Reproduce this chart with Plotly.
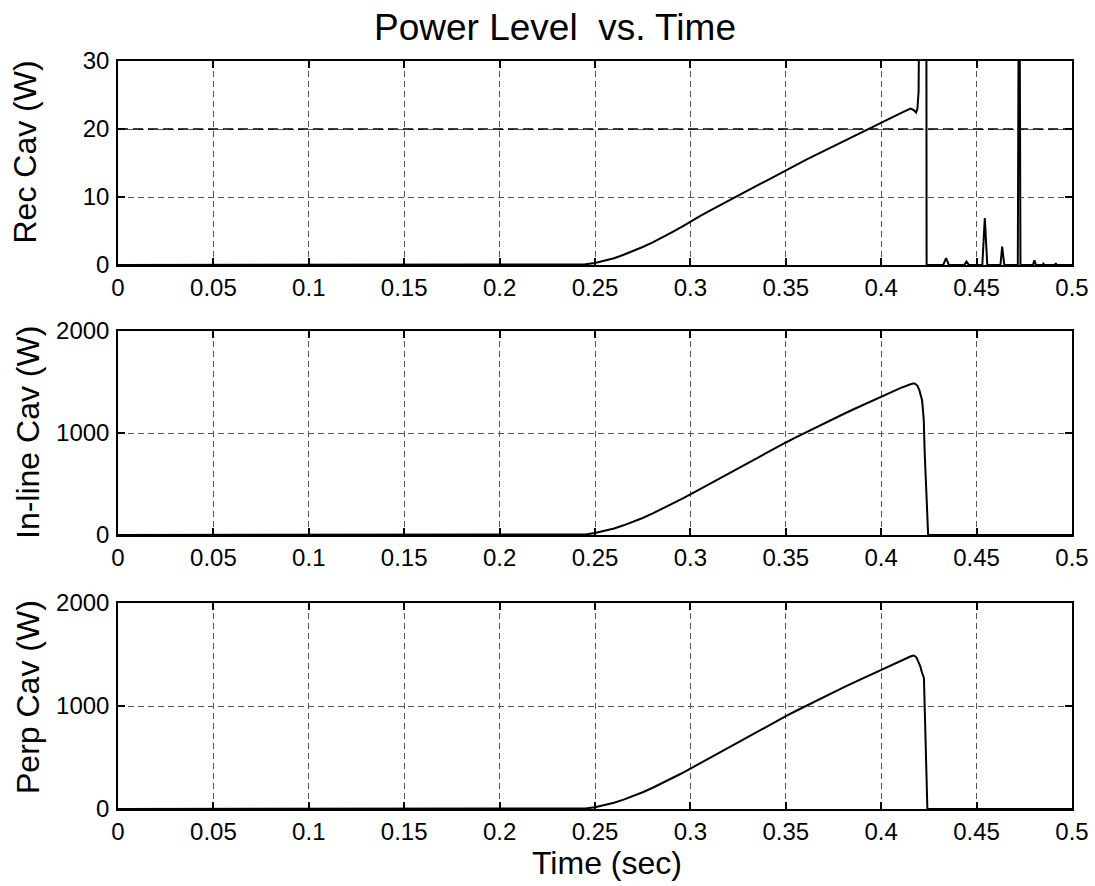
import plotly.graph_objects as go
from plotly.subplots import make_subplots

# ---------------- data ----------------
t_rec = [0, 0.1, 0.2, 0.235, 0.24, 0.245, 0.25, 0.255, 0.26, 0.265, 0.27, 0.275, 0.28, 0.285,
         0.29, 0.295, 0.3, 0.305, 0.31, 0.315, 0.32, 0.325, 0.33, 0.335, 0.34, 0.345, 0.35,
         0.355, 0.36, 0.365, 0.37, 0.375, 0.38, 0.385, 0.39, 0.395, 0.4, 0.405, 0.41,
         0.4153, 0.417, 0.4183, 0.419, 0.4196, 0.42, 0.4205, 0.4236, 0.4238,
         0.4325, 0.434, 0.4355, 0.4435, 0.4447, 0.446, 0.453, 0.4543, 0.4556,
         0.4625, 0.4634, 0.4645, 0.4716, 0.4723, 0.473, 0.4795, 0.4803, 0.4811,
         0.4845, 0.485, 0.4855, 0.491, 0.4915, 0.492, 0.5]
p_rec = [0, 0, 0, 0, 0.03, 0.1, 0.3, 0.6, 1.0, 1.5, 2.05, 2.65, 3.3, 4.0,
         4.75, 5.55, 6.4, 7.2, 7.95, 8.7, 9.45, 10.2, 11.0, 11.7, 12.5, 13.2, 14.0,
         14.7, 15.4, 16.1, 16.8, 17.5, 18.2, 18.9, 19.6, 20.3, 20.9, 21.6, 22.3,
         23.0, 22.8, 22.4, 23.0, 25.5, 30.5, 60, 60, 0,
         0, 1.0, 0, 0, 0.5, 0, 0, 6.9, 0,
         0, 2.7, 0, 0, 60, 0, 0, 0.7, 0,
         0, 0.2, 0, 0, 0.25, 0, 0]

t_inline = [0, 0.1, 0.2, 0.24, 0.245, 0.25, 0.255, 0.26, 0.265, 0.27, 0.275, 0.28, 0.285, 0.29,
            0.295, 0.3, 0.305, 0.31, 0.315, 0.32, 0.325, 0.33, 0.335, 0.34, 0.345, 0.35, 0.355,
            0.36, 0.365, 0.37, 0.375, 0.38, 0.385, 0.39, 0.395, 0.4, 0.405, 0.41, 0.415, 0.4171,
            0.418, 0.419, 0.42, 0.4207, 0.4214, 0.4219, 0.4223, 0.4228, 0.4235, 0.4246, 0.5]
p_inline = [0, 0, 0, 0, 6, 19, 39, 64, 95, 129, 167, 209, 253, 300,
            349, 399, 450, 502, 554, 606, 658, 709, 760, 810, 859, 907, 955,
            1002, 1048, 1094, 1139, 1184, 1228, 1272, 1316, 1359, 1400, 1440, 1476, 1487,
            1480, 1462, 1420, 1380, 1323, 1225, 1127, 804, 474, 0, 0]

t_perp = [0, 0.1, 0.2, 0.24, 0.245, 0.25, 0.255, 0.26, 0.265, 0.27, 0.275, 0.28, 0.285, 0.29,
          0.295, 0.3, 0.305, 0.31, 0.315, 0.32, 0.325, 0.33, 0.335, 0.34, 0.345, 0.35, 0.355,
          0.36, 0.365, 0.37, 0.375, 0.38, 0.385, 0.39, 0.395, 0.4, 0.405, 0.41, 0.415, 0.4167,
          0.4175, 0.4185, 0.4195, 0.4205, 0.4212, 0.4218, 0.4224, 0.4232, 0.4242, 0.5]
p_perp = [0, 0, 0, 0, 5, 17, 36, 61, 91, 125, 163, 204, 248, 294,
          342, 392, 443, 495, 547, 599, 651, 703, 754, 804, 853, 901, 949,
          996, 1042, 1088, 1133, 1178, 1222, 1266, 1310, 1354, 1397, 1440, 1478, 1490,
          1487, 1470, 1435, 1385, 1335, 1300, 1270, 700, 0, 0]

rec_threshold = 20

x_ticks = [0, 0.05, 0.1, 0.15, 0.2, 0.25, 0.3, 0.35, 0.4, 0.45, 0.5]
x_tick_labels = ["0", "0.05", "0.1", "0.15", "0.2", "0.25", "0.3", "0.35", "0.4", "0.45", "0.5"]
rec_ticks = [0, 10, 20, 30]
cav_ticks = [0, 1000, 2000]

title_text = "Power Level  vs. Time"
x_title = "Time (sec)"
y_titles = ["Rec Cav (W)", "In-line Cav (W)", "Perp Cav (W)"]

# ---------------- figure ----------------
W, H = 1095, 886
L, R = 118, 23
FONT = "Liberation Sans, Arial, Helvetica, sans-serif"

fig = make_subplots(rows=3, cols=1)

line_style = dict(color="black", width=2)
fig.add_trace(go.Scatter(x=t_rec, y=p_rec, mode="lines", line=line_style, showlegend=False), row=1, col=1)
fig.add_trace(go.Scatter(x=[x_ticks[0], x_ticks[-1]], y=[rec_threshold, rec_threshold], mode="lines",
                         line=dict(color="black", width=1.5, dash="10px,5px"), showlegend=False), row=1, col=1)
fig.add_trace(go.Scatter(x=t_inline, y=p_inline, mode="lines", line=line_style, showlegend=False), row=2, col=1)
fig.add_trace(go.Scatter(x=t_perp, y=p_perp, mode="lines", line=line_style, showlegend=False), row=3, col=1)


def ydom(top_px, bot_px):
    return [1 - bot_px / H, 1 - top_px / H]


domains = [ydom(61, 265), ydom(331, 535), ydom(603, 809)]

axis_common = dict(
    showline=True, linecolor="black", linewidth=1.5, mirror="ticks",
    ticks="inside", ticklen=7, tickwidth=1.5, tickcolor="black",
    showgrid=True, gridcolor="#555555", gridwidth=1, griddash="6px,4px",
    zeroline=False, tickfont=dict(family=FONT, size=24, color="black"),
)

for i in range(3):
    n = "" if i == 0 else str(i + 1)
    fig.layout["xaxis" + n].update(range=[0, 0.5], tickvals=x_ticks, ticktext=x_tick_labels,
                                  domain=[0, 1], ticklabelstandoff=0, **axis_common)
    yt = rec_ticks if i == 0 else cav_ticks
    fig.layout["yaxis" + n].update(range=[yt[0], yt[-1]], tickvals=yt, ticktext=[str(v) for v in yt],
                                  domain=domains[i], ticklabelstandoff=2, **axis_common)

PW = W - L - R
ann = []
ycent = [152, 433, 697]
xcent = [24.5, 28, 28]
for i, txt in enumerate(y_titles):
    ann.append(dict(text=txt, xref="paper", yref="paper", x=(xcent[i] - L) / PW,
                    y=1 - ycent[i] / H, xanchor="center", yanchor="middle", textangle=-90,
                    showarrow=False, font=dict(family=FONT, size=32, color="black")))
ann.append(dict(text=x_title, xref="paper", yref="paper", x=(607 - L) / PW,
                y=1 - 863 / H, xanchor="center", yanchor="middle", showarrow=False,
                font=dict(family=FONT, size=32, color="black")))

fig.update_layout(
    width=W, height=H,
    margin=dict(l=L, r=R, t=0, b=0, autoexpand=False),
    paper_bgcolor="white", plot_bgcolor="white",
    title=dict(text=title_text, xref="paper", x=(555 - L) / PW, xanchor="center",
               yref="container", y=1 - 27 / H, yanchor="middle",
               font=dict(family=FONT, size=37, color="black")),
    annotations=ann,
    showlegend=False,
)

fig.write_html(
    "out.html",
    config={"displayModeBar": False},
    post_script="document.body.style.margin='0';document.body.style.overflow='hidden';",
)
